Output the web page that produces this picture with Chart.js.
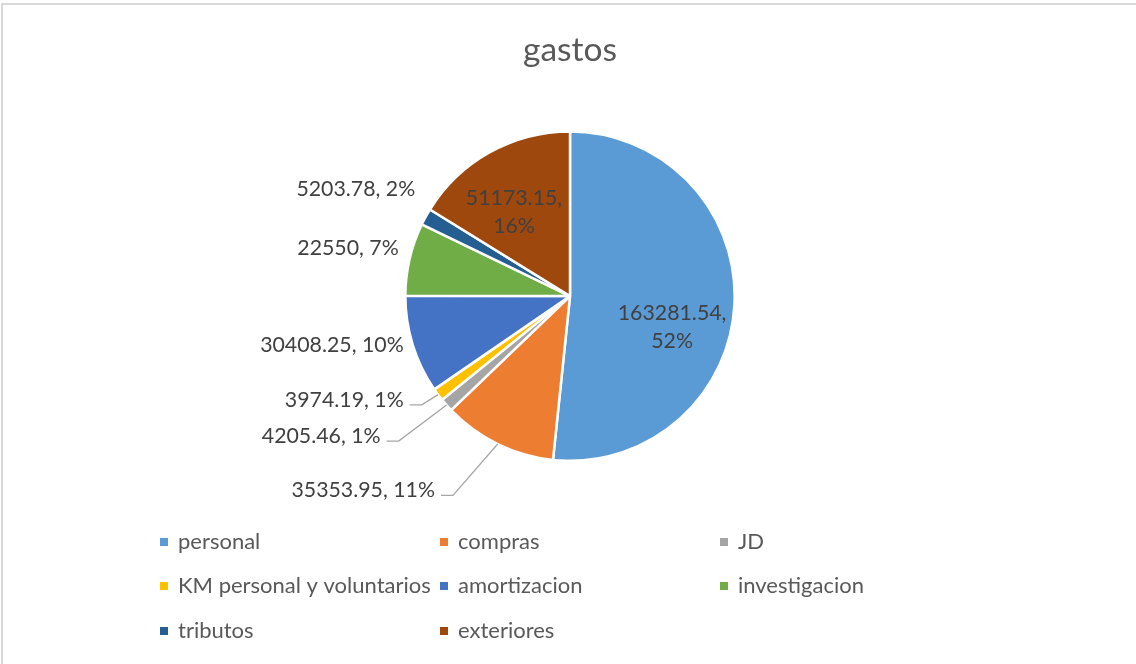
<!DOCTYPE html>
<html>
<head>
<meta charset="utf-8">
<script src="https://cdn.jsdelivr.net/npm/chart.js@4"></script>
<style>
  html, body { margin: 0; padding: 0; background: #fff; }
  #wrap { width: 1136px; height: 664px; position: relative; }
</style>
</head>
<body>
<div id="wrap"><canvas id="myChart" width="1136" height="664"></canvas></div>
<script>
const title = 'gastos';
const categories = ['personal', 'compras', 'JD', 'KM personal y voluntarios', 'amortizacion', 'investigacion', 'tributos', 'exteriores'];
const values = [163281.54, 35353.95, 4205.46, 3974.19, 30408.25, 22550, 5203.78, 51173.15];
const colors = ['#5b9bd5', '#ed7d31', '#a5a5a5', '#ffc000', '#4472c4', '#70ad47', '#255e91', '#9e480e'];

// where each label sits, relative to pie centre, in radius units
const labelPlace = [
  { x: 0.62, y: 0.19, align: 'center', inside: true },
  { x: -0.82, y: 1.18, align: 'right', leader: true },
  { x: -1.15, y: 0.85, align: 'right', leader: true },
  { x: -1.01, y: 0.63, align: 'right', leader: true },
  { x: -1.01, y: 0.30, align: 'right' },
  { x: -1.04, y: -0.29, align: 'right' },
  { x: -0.94, y: -0.65, align: 'right' },
  { x: -0.34, y: -0.51, align: 'center', inside: true }
];

const FONT = 'Lato, "Open Sans", sans-serif';

const frame = {
  id: 'frame',
  beforeDraw(chart) {
    const ctx = chart.ctx;
    ctx.save();
    ctx.strokeStyle = '#d9d9d9';
    ctx.lineWidth = 2;
    ctx.beginPath();
    ctx.moveTo(2, 664);
    ctx.lineTo(2, 4);
    ctx.lineTo(1136, 4);
    ctx.stroke();
    ctx.restore();
  }
};

const pieLabels = {
  id: 'pieLabels',
  afterDatasetsDraw(chart) {
    const ctx = chart.ctx;
    const meta = chart.getDatasetMeta(0);
    const total = values.reduce((a, b) => a + b, 0);
    ctx.save();
    ctx.font = '21.3px ' + FONT;
    ctx.fillStyle = '#404040';
    ctx.textBaseline = 'middle';
    meta.data.forEach((arc, i) => {
      const p = labelPlace[i];
      const cx = arc.x, cy = arc.y, r = arc.outerRadius;
      const tx = cx + p.x * r, ty = cy + p.y * r;
      const pct = Math.round(values[i] / total * 100) + '%';
      ctx.textAlign = p.align;
      if (p.inside) {
        ctx.fillText(values[i] + ',', tx, ty - 14);
        ctx.fillText(pct, tx, ty + 14);
      } else {
        const txt = values[i] + ', ' + pct;
        ctx.fillText(txt, tx, ty);
        if (p.leader) {
          const mid = (arc.startAngle + arc.endAngle) / 2;
          const ex = cx + Math.cos(mid) * r;
          const ey = cy + Math.sin(mid) * r;
          ctx.strokeStyle = '#a6a6a6';
          ctx.lineWidth = 1.3;
          ctx.beginPath();
          ctx.moveTo(tx + 6, ty + 5);
          ctx.lineTo(tx + 18, ty + 5);
          ctx.lineTo(ex, ey);
          ctx.stroke();
        }
      }
    });
    ctx.restore();
  }
};

const gridLegend = {
  id: 'gridLegend',
  afterDraw(chart) {
    const ctx = chart.ctx;
    const colX = [160, 440, 720];
    const rowY = [542, 586, 631];
    ctx.save();
    ctx.font = '22px ' + FONT;
    ctx.textBaseline = 'middle';
    ctx.textAlign = 'left';
    categories.forEach((name, i) => {
      const x = colX[i % 3], y = rowY[Math.floor(i / 3)];
      ctx.fillStyle = colors[i];
      ctx.fillRect(x, y - 4, 8, 8);
      ctx.fillStyle = '#595959';
      ctx.fillText(name, x + 18, y);
    });
    ctx.restore();
  }
};

new Chart(document.getElementById('myChart'), {
  type: 'pie',
  data: {
    labels: categories,
    datasets: [{
      data: values,
      backgroundColor: colors,
      borderColor: '#ffffff',
      borderWidth: 2.5,
      hoverOffset: 0
    }]
  },
  options: {
    responsive: false,
    animation: false,
    devicePixelRatio: 1,
    layout: { padding: { top: 0, bottom: 202, left: 4, right: 0 } },
    plugins: {
      legend: { display: false },
      tooltip: { enabled: false },
      title: {
        display: true,
        text: title,
        color: '#595959',
        font: { family: FONT, size: 33.5, weight: 'normal', lineHeight: 1.2 },
        padding: { top: 30, bottom: 60 }
      }
    }
  },
  plugins: [frame, pieLabels, gridLegend]
});
</script>
</body>
</html>
